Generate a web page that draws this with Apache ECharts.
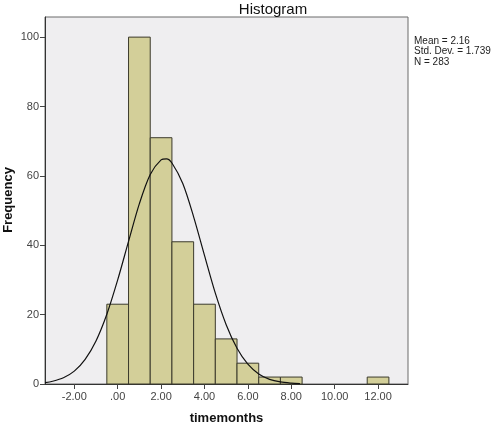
<!DOCTYPE html>
<html><head><meta charset="utf-8">
<script src="https://cdn.jsdelivr.net/npm/echarts@6/dist/echarts.min.js"></script>
<style>html,body{margin:0;padding:0;background:#fff}#c{width:491px;height:435px}</style>
</head><body><div id="c"></div>
<script>
// Histogram bins (centre of each 1-unit bin) and frequencies
const binCenters = [0, 1, 2, 3, 4, 5, 6, 7, 8, 12];
const frequencies = [23, 100, 71, 41, 23, 13, 6, 2, 2, 2];
// Normal curve
const curveX = [-3.35, -3, -2.5, -2, -1.5, -1, -0.5, 0, 0.5, 1, 1.5, 2, 2.25, 2.5, 3, 3.5, 4, 4.5, 5, 5.5, 6, 6.5, 7, 7.5, 8, 8.4];
const curveY = [0.4, 0.8, 1.8, 3.7, 7.1, 12.4, 20.1, 30.0, 41.1, 52.0, 60.4, 64.6, 64.9, 63.7, 57.8, 48.2, 37.1, 26.2, 17.1, 10.3, 5.7, 2.9, 1.35, 0.6, 0.25, 0.1];
const xTicks = [-2, 0, 2, 4, 6, 8, 10, 12];
const yTicks = [0, 20, 40, 60, 80, 100];
const statsLines = ['Mean = 2.16', 'Std. Dev. = 1.739', 'N = 283'];
const yTitle = 'Frequency';

const binWidth = 1;
const barData = binCenters.map((c, i) => [c, frequencies[i]]);
const lineData = curveX.map((x, i) => [x, curveY[i]]);

const chart = echarts.init(document.getElementById('c'), null, {renderer: 'canvas'});
const FONT = 'Liberation Sans, Arial, sans-serif';
const graphics = statsLines.map((t, i) => ({
  type: 'text', left: 414, top: 36 + i * 10.5,
  style: {text: t, font: '10px ' + FONT, fill: '#222'}
}));
graphics.push({
  type: 'text', x: 8, y: 200, rotation: Math.PI / 2,
  style: {text: yTitle, font: 'bold 13px ' + FONT, fill: '#111', align: 'center', verticalAlign: 'middle'}
});
chart.setOption({
  animation: false,
  backgroundColor: '#ffffff',
  title: {
    text: 'Histogram', left: 268, top: -3, textAlign: 'center',
    textStyle: {fontFamily: FONT, fontSize: 15, fontWeight: 'normal', color: '#111'}
  },
  grid: {left: 45, top: 17, right: 83, bottom: 51, show: true, outerBoundsMode: 'none', containLabel: false,
    backgroundColor: '#efeef0', borderColor: '#6a6a6a', borderWidth: 1},
  xAxis: {
    type: 'value', min: -3.35, max: 13.38,
    name: 'timemonths', nameLocation: 'middle', nameGap: 28, nameMoveOverlap: false,
    nameTextStyle: {fontFamily: FONT, fontSize: 13, fontWeight: 'bold', color: '#111'},
    axisLine: {show: true, onZero: false, lineStyle: {color: '#333', width: 1}},
    axisTick: {show: true, length: 5, customValues: xTicks, lineStyle: {color: '#444'}},
    axisLabel: {customValues: xTicks, fontFamily: FONT, fontSize: 11, color: '#444', margin: 7,
      formatter: v => { const s = v.toFixed(2); return s.replace(/^(-?)0\./, '$1.'); }},
    splitLine: {show: false}
  },
  yAxis: {
    type: 'value', min: 0, max: 105.8,
    axisLine: {show: true, onZero: false, lineStyle: {color: '#333', width: 1}},
    axisTick: {show: true, length: 5, customValues: yTicks, lineStyle: {color: '#444'}},
    axisLabel: {customValues: yTicks, fontFamily: FONT, fontSize: 11, color: '#444', margin: 6},
    splitLine: {show: false}
  },
  graphic: graphics,
  series: [
    {
      type: 'custom',
      data: barData,
      renderItem: function (params, api) {
        const c = api.value(0), f = api.value(1);
        const p0 = api.coord([c - binWidth / 2, f]);
        const p1 = api.coord([c + binWidth / 2, 0]);
        return {
          type: 'rect',
          shape: {x: p0[0], y: p0[1], width: p1[0] - p0[0], height: p1[1] - p0[1]},
          style: {fill: '#d3cf99', stroke: '#3b3a2c', lineWidth: 1}
        };
      },
      z: 2
    },
    {
      type: 'line', data: lineData, smooth: 0.3, symbol: 'none',
      lineStyle: {color: '#111', width: 1.2}, z: 3
    }
  ]
});
</script>
</body></html>
